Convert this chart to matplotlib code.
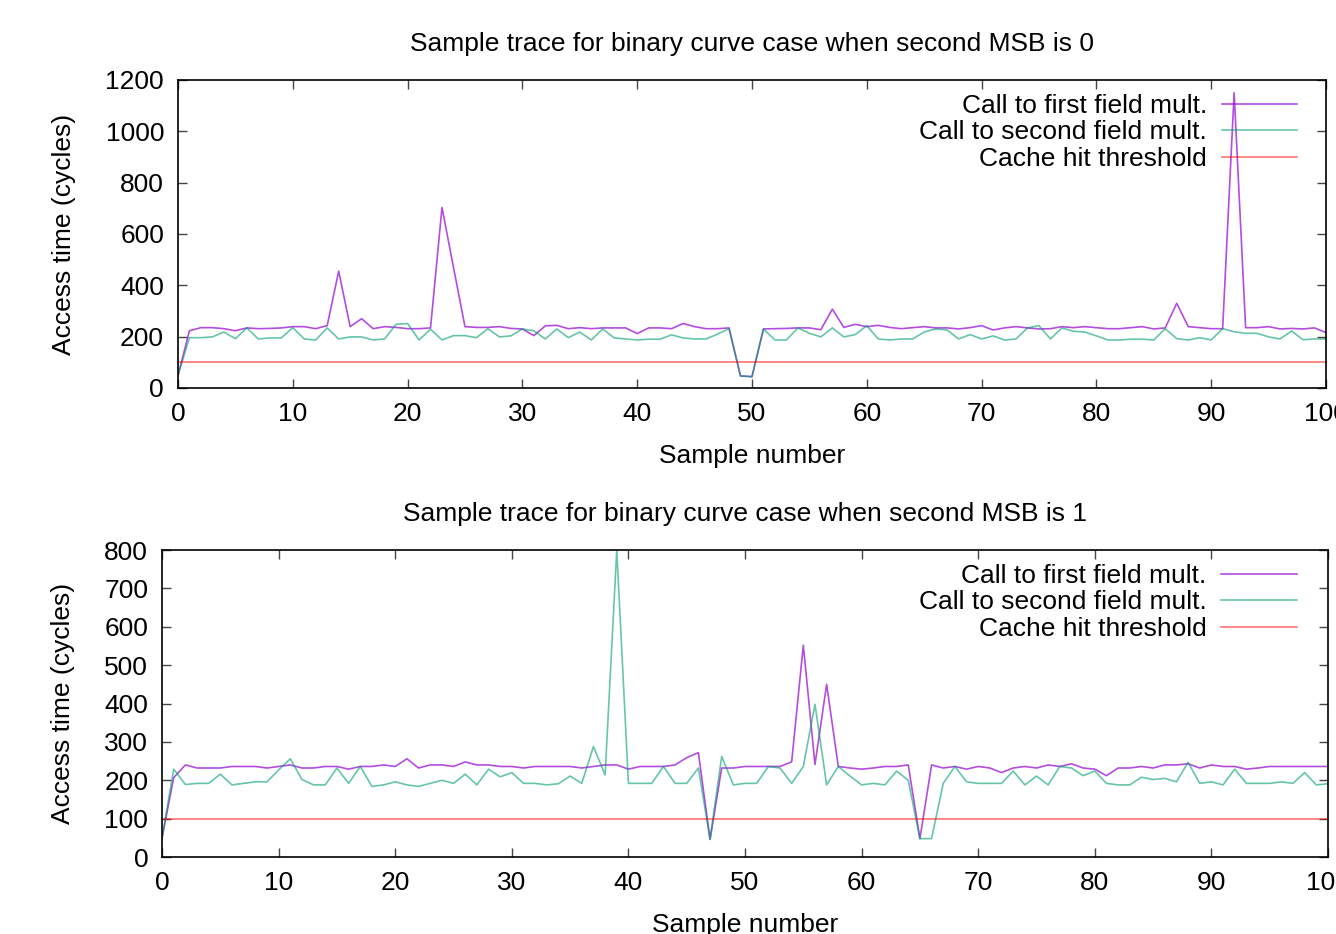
import matplotlib
matplotlib.use("Agg")
import matplotlib.pyplot as plt

plt.rcParams['font.family'] = ['Liberation Sans', 'DejaVu Sans']

# sample index 0..100
samples = list(range(101))
threshold = 100

# second MSB = 0
first_msb0 = [48, 223, 235, 235, 231, 223, 234, 231, 232, 234,
              239, 239, 231, 243, 455, 239, 270, 231, 239, 236,
              231, 231, 234, 703, 470, 239, 236, 236, 239, 232,
              230, 204, 242, 244, 231, 235, 231, 234, 234, 234,
              212, 234, 234, 231, 251, 239, 231, 231, 234, 47,
              44, 230, 231, 232, 234, 234, 227, 307, 236, 248,
              239, 244, 236, 231, 235, 239, 234, 234, 230, 235,
              243, 226, 234, 239, 234, 230, 231, 239, 235, 239,
              235, 231, 231, 235, 239, 230, 234, 330, 239, 235,
              231, 231, 1150, 235, 235, 239, 230, 232, 230, 234,
              216]
second_msb0 = [48, 196, 196, 199, 218, 192, 234, 191, 195, 195,
               235, 191, 187, 234, 191, 199, 199, 187, 191, 248,
               251, 187, 229, 187, 204, 204, 196, 231, 199, 203,
               230, 223, 191, 230, 196, 218, 187, 230, 195, 191,
               187, 190, 190, 207, 195, 191, 191, 210, 231, 47,
               44, 230, 187, 187, 234, 213, 199, 234, 199, 208,
               243, 191, 187, 191, 191, 218, 230, 226, 191, 208,
               191, 203, 187, 191, 234, 243, 191, 234, 221, 218,
               203, 187, 187, 190, 190, 187, 231, 192, 187, 196,
               187, 231, 219, 213, 213, 199, 191, 222, 188, 191,
               191]

# second MSB = 1
first_msb1 = [50, 207, 240, 232, 232, 232, 236, 236, 236, 232,
              236, 240, 232, 232, 236, 236, 229, 236, 236, 240,
              236, 256, 232, 240, 240, 236, 248, 240, 240, 236,
              236, 232, 236, 236, 236, 236, 232, 236, 240, 240,
              229, 236, 236, 236, 240, 259, 272, 46, 232, 232,
              236, 236, 236, 236, 248, 552, 241, 450, 236, 232,
              229, 232, 236, 236, 240, 48, 240, 232, 236, 229,
              236, 232, 220, 232, 236, 232, 240, 236, 243, 232,
              229, 212, 232, 232, 236, 232, 240, 240, 243, 232,
              240, 236, 236, 229, 232, 236, 236, 236, 236, 236,
              236]
second_msb1 = [50, 229, 189, 192, 192, 216, 188, 192, 196, 196,
               227, 256, 202, 188, 188, 232, 192, 236, 184, 188,
               196, 188, 184, 192, 200, 192, 216, 188, 229, 209,
               220, 192, 192, 188, 191, 211, 192, 288, 214, 800,
               192, 192, 192, 236, 192, 192, 232, 46, 262, 188,
               192, 192, 236, 232, 192, 236, 398, 188, 236, 211,
               188, 192, 188, 224, 200, 48, 48, 192, 236, 196,
               192, 192, 192, 224, 188, 211, 188, 236, 232, 212,
               224, 192, 188, 188, 208, 202, 205, 196, 247, 192,
               196, 188, 229, 192, 192, 192, 196, 192, 220, 188,
               191]

labels = ['Call to first field mult.', 'Call to second field mult.', 'Cache hit threshold']
titles = ['Sample trace for binary curve case when second MSB is 0',
          'Sample trace for binary curve case when second MSB is 1']

fig = plt.figure(figsize=(13.36, 9.34), dpi=100)
ax1 = fig.add_axes([0.1332, 0.5846, 0.8593, 0.3298])
ax2 = fig.add_axes([0.1213, 0.0824, 0.8727, 0.3287])

panels = [(ax1, first_msb0, second_msb0, 1200, 200, 0.975),
          (ax2, first_msb1, second_msb1, 800, 100, 0.973)]

fs = 19
for i, (ax, first, second, ymax, ystep, legx) in enumerate(panels):
    ax.plot(samples, first, color='#9400d3', lw=1.2, alpha=0.7, label=labels[0])
    ax.plot(samples, second, color='#009e73', lw=1.2, alpha=0.6, label=labels[1])
    ax.plot(samples, [threshold] * len(samples), color='#ff0000', lw=1.2, alpha=0.55,
            label=labels[2])
    ax.set_xlim(0, 100)
    ax.set_ylim(0, ymax)
    ax.set_xticks(range(0, 101, 10))
    ax.set_yticks(range(0, ymax + 1, ystep))
    ax.tick_params(direction='in', top=True, right=True, length=6.5, width=1,
                   color='#444444', labelsize=fs, pad=10)
    for s in ax.spines.values():
        s.set_linewidth(1.2)
    ax.set_title(titles[i], fontsize=fs, pad=21)
    ax.set_xlabel('Sample number', fontsize=fs, labelpad=13)
    ax.set_ylabel('Access time (cycles)', fontsize=fs, labelpad=21)
    ax.legend(loc='upper right', markerfirst=False, frameon=False, fontsize=fs,
              handlelength=2.85, handletextpad=0.57, labelspacing=0.1,
              borderpad=0, borderaxespad=0, bbox_to_anchor=(legx, 0.955))

fig.savefig('out.png', dpi=100)
